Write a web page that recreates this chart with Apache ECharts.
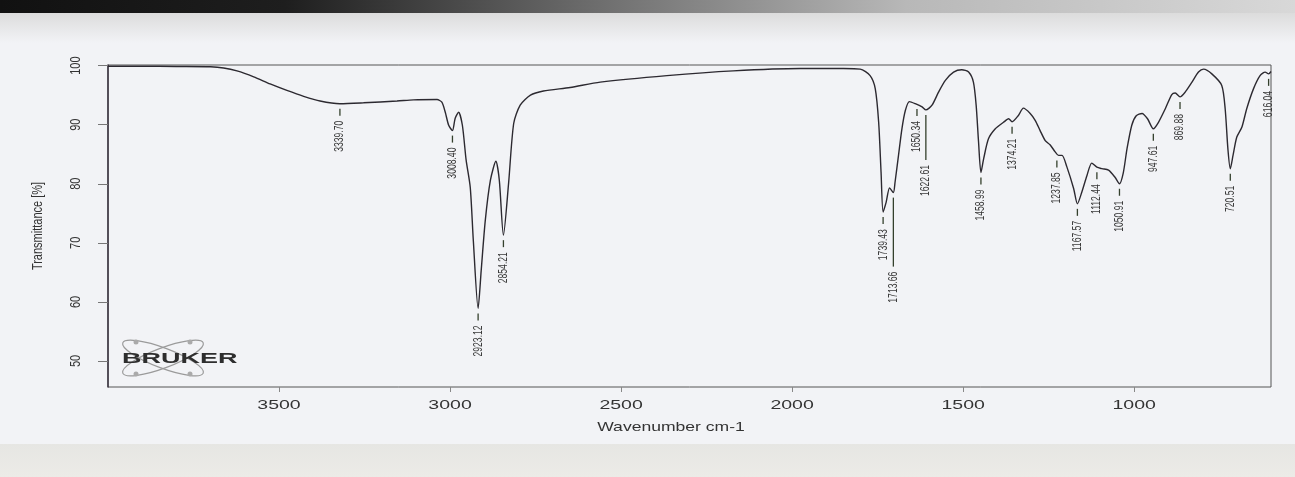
<!DOCTYPE html>
<html><head><meta charset="utf-8">
<script src="https://cdn.jsdelivr.net/npm/echarts@6/dist/echarts.min.js"></script>
<style>html,body{margin:0;padding:0;background:#f2f3f6;}#c{width:1295px;height:477px;}</style>
</head><body><div id="c"></div>
<script>
// ---- data ----
const wavenumber = [4000,3900,3800,3700,3662,3623,3574,3526,3477,3428,3380,3322,3253,3155,3107,3038,3024,3014,3004,2993,2985,2975,2964,2953,2941,2932,2918,2909,2897,2882,2866,2856,2844,2829,2814,2795,2765,2727,2649,2561,2366,2172,1976,1850,1801,1772,1757,1747,1740,1734,1725,1715,1704,1699,1689,1679,1669,1657,1640,1620,1609,1591,1572,1552,1528,1504,1484,1470,1462,1455,1448,1440,1426,1406,1382,1367,1357,1338,1324,1304,1289,1275,1260,1246,1231,1221,1211,1197,1177,1166,1153,1138,1124,1109,1094,1075,1056,1043,1032,1021,1007,994,977,961,944,929,909,890,880,866,851,831,812,797,773,744,734,726,719,711,700,685,671,651,632,617,607,600];
const transmittance = [99.9,99.9,99.85,99.8,99.6,99.1,98.1,96.9,95.8,94.8,94.0,93.55,93.7,94.0,94.2,94.25,93.8,92.1,89.9,89.0,91.1,92.1,89.9,84.0,79.4,70.4,58.9,65.3,73.8,80.6,83.8,80.6,71.3,80.0,90.2,93.3,95.0,95.7,96.3,97.2,98.3,99.1,99.5,99.5,99.4,98.3,96.1,90.4,82.0,75.2,76.9,79.3,78.5,80.3,84.8,89.3,92.4,93.9,93.55,93.0,92.5,93.3,95.5,97.5,98.9,99.3,98.9,97.2,93.3,87.1,81.9,84.25,87.6,89.3,90.4,91.0,90.5,91.6,92.8,91.9,90.7,89.0,87.3,86.6,85.4,84.8,84.8,82.9,79.2,76.6,78.6,81.4,83.5,82.8,82.55,82.3,81.1,80.0,81.8,85.9,89.9,91.5,91.9,91.0,89.3,90.4,92.7,95.1,95.35,94.7,95.5,97.2,98.9,99.4,98.6,96.65,92.7,85.9,82.55,84.8,87.9,89.6,92.7,96.1,98.3,98.9,98.6,99.0];
const peakWavenumber = [3322,2993,2918,2844,1734,1704,1635,1609,1448,1357,1226,1166,1109,1043,944,866,719,607];
const peakTransmittance = [93.55,89.0,58.9,71.3,75.2,78.5,93.5,92.5,81.9,90.5,84.8,76.6,82.8,80.0,89.3,94.7,82.55,98.6];
const peakLabels = ['3339.70','3008.40','2923.12','2854.21','1739.43','1713.66','1650.34','1622.61','1458.99','1374.21','1237.85','1167.57','1112.44','1050.91','947.61','869.88','720.51','616.04'];
const xTicks = [1000,1500,2000,2500,3000,3500];
const yTicks = [50,60,70,80,90,100];
const xRange = [600,4000];
const yRange = [45.6,100.1];
const xTitle = 'Wavenumber cm-1';
const yTitle = 'Transmittance [%]';

// ---- styling / layout ----
const FONT = "'Liberation Sans', Arial, sans-serif";
const LEADER = {'1713.66': 69, '1622.61': 45};
const chart = echarts.init(document.getElementById('c'), null, {renderer: 'canvas'});

const spectrum = wavenumber.map((w, i) => [w, transmittance[i]]);
const peaks = peakWavenumber.map((w, i) => [w, peakTransmittance[i]]);

function renderPeak(params, api) {
  const p = api.coord([api.value(0), api.value(1)]);
  const text = peakLabels[params.dataIndex];
  const lead = LEADER[text] || 7;
  const a = p[1] + 5;
  return {type: 'group', children: [
    {type: 'line', shape: {x1: p[0], y1: a, x2: p[0], y2: a + lead}, style: {stroke: '#34402c', lineWidth: 1.3}},
    {type: 'text', x: p[0], y: a + lead + 5, rotation: Math.PI / 2, scaleY: 1.45,
     style: {text: text, fontFamily: FONT, fontSize: 8.6, fill: '#3a3a3a', align: 'right', verticalAlign: 'middle'}}
  ]};
}
function renderXLabel(params, api) {
  const p = api.coord([api.value(0), api.value(1)]);
  return {type: 'text', x: p[0], y: p[1] + 18, scaleX: 1.5,
    style: {text: String(xTicks[params.dataIndex]), fontFamily: FONT, fontSize: 13, fill: '#333', align: 'center', verticalAlign: 'middle'}};
}
function renderYLabel(params, api) {
  const p = api.coord([api.value(0), api.value(1)]);
  return {type: 'text', x: p[0] - 32, y: p[1], rotation: Math.PI / 2, scaleY: 1.4,
    style: {text: String(yTicks[params.dataIndex]), fontFamily: FONT, fontSize: 11, fill: '#333', align: 'center', verticalAlign: 'middle'}};
}

const option = {
  animation: false,
  backgroundColor: '#f2f3f6',
  graphic: [
    {type: 'rect', left: 0, top: 0, z: -10, shape: {width: 1295, height: 13},
     style: {fill: new echarts.graphic.LinearGradient(0, 0, 1, 0, [
       {offset: 0, color: '#111'}, {offset: 0.22, color: '#1e1e1e'}, {offset: 0.45, color: '#6a6a6a'},
       {offset: 0.7, color: '#b8b8b8'}, {offset: 1, color: '#d8d8d8'}])}},
    {type: 'rect', left: 0, top: 13, z: -10, shape: {width: 1295, height: 30},
     style: {fill: new echarts.graphic.LinearGradient(0, 0, 0, 1, [
       {offset: 0, color: '#dcdcdc'}, {offset: 1, color: '#f2f3f6'}])}},
    {type: 'rect', left: 0, top: 444, z: -10, shape: {width: 1295, height: 33},
     style: {fill: new echarts.graphic.LinearGradient(0, 0, 0, 1, [
       {offset: 0, color: '#e6e6e3'}, {offset: 1, color: '#ecebe7'}])}},
    {type: 'text', x: 671, y: 427, scaleX: 1.35, z: 5,
     style: {text: xTitle, fontFamily: FONT, fontSize: 13, fill: '#333', align: 'center', verticalAlign: 'middle'}},
    {type: 'text', x: 38, y: 226, rotation: Math.PI / 2, scaleY: 1.4, z: 5,
     style: {text: yTitle, fontFamily: FONT, fontSize: 11, fill: '#333', align: 'center', verticalAlign: 'middle'}},
    {type: 'group', x: 163, y: 358, z: 5, children: [
      {type: 'ellipse', rotation: 0.36, shape: {cx: 0, cy: 0, rx: 43, ry: 10}, style: {fill: 'none', stroke: '#9a9a9a', lineWidth: 1.2}},
      {type: 'ellipse', rotation: -0.36, shape: {cx: 0, cy: 0, rx: 43, ry: 10}, style: {fill: 'none', stroke: '#9a9a9a', lineWidth: 1.2}},
      {type: 'circle', shape: {cx: -27, cy: -16, r: 2.5}, style: {fill: '#aaa'}},
      {type: 'circle', shape: {cx: 27, cy: -16, r: 2.5}, style: {fill: '#aaa'}},
      {type: 'circle', shape: {cx: -27, cy: 16, r: 2.5}, style: {fill: '#aaa'}},
      {type: 'circle', shape: {cx: 27, cy: 16, r: 2.5}, style: {fill: '#aaa'}},
      {type: 'text', x: -41, y: 1, scaleX: 1.8, style: {text: 'BRUKER', fontFamily: FONT, fontWeight: 'bold', fontSize: 15, fill: '#2e2e2e', align: 'left', verticalAlign: 'middle'}}
    ]}
  ],
  grid: {left: 108, right: 24, top: 65, bottom: 90, show: true, borderColor: '#555', borderWidth: 1, backgroundColor: 'transparent'},
  xAxis: {type: 'value', inverse: true, min: xRange[0], max: xRange[1],
    axisLine: {show: false}, splitLine: {show: false},
    axisTick: {show: true, inside: false, length: 5, customValues: xTicks, lineStyle: {color: '#888'}},
    axisLabel: {show: false}},
  yAxis: {type: 'value', min: yRange[0], max: yRange[1],
    axisLine: {show: true, lineStyle: {color: '#3a3340', width: 1.5}}, splitLine: {show: false},
    axisTick: {show: true, inside: false, length: 10, customValues: yTicks, lineStyle: {color: '#777'}},
    axisLabel: {show: false}},
  series: [
    {type: 'line', data: spectrum, showSymbol: false, smooth: 0.25,
     lineStyle: {color: '#2c2930', width: 1.4}, z: 3},
    {type: 'custom', data: peaks, renderItem: renderPeak, z: 4},
    {type: 'custom', data: xTicks.map(v => [v, yRange[0]]), renderItem: renderXLabel, z: 4},
    {type: 'custom', data: yTicks.map(v => [xRange[1], v]), renderItem: renderYLabel, z: 4}
  ]
};
chart.setOption(option);
</script></body></html>
